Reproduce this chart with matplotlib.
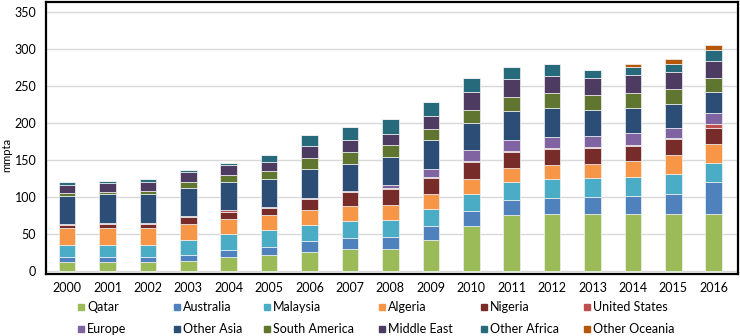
import matplotlib
matplotlib.use("Agg")
import matplotlib.pyplot as plt
from matplotlib.patches import Rectangle
import numpy as np

years = [str(y) for y in range(2000, 2017)]
series_names = ["Qatar", "Australia", "Malaysia", "Algeria", "Nigeria", "United States",
                "Europe", "Other Asia", "South America", "Middle East", "Other Africa", "Other Oceania"]
colors = ["#9BBB59", "#4F81BD", "#4BACC6", "#F79646", "#772C2A", "#C0504D",
          "#8064A2", "#2C4D75", "#5F7530", "#4D3B62", "#276A7C", "#B65708"]

qatar         = [11, 11, 11, 13, 18, 20.5, 25, 29, 29.5, 41.5, 60.5, 75.5, 76.5, 76.5, 76.5, 76.5, 76.5]
australia     = [8, 8, 8, 8, 9.5, 11, 14.5, 15.5, 16, 19, 20, 20.5, 22, 23, 24.5, 27.5, 43.5]
malaysia      = [15, 15, 15, 20, 22, 23.5, 22, 22.5, 23.5, 22.5, 23.5, 24, 26, 26.5, 25.5, 26.5, 26]
algeria       = [23, 24, 24, 22.5, 20.5, 20.5, 21, 20.5, 20, 20.5, 20, 19.5, 18.5, 18.5, 21.5, 25.5, 25.5]
nigeria       = [5, 5, 5.5, 9, 10, 9.5, 15, 19, 21, 22, 22.5, 21, 21.5, 21.5, 21, 22, 22]
united_states = [1.5, 1.5, 1.5, 1.5, 1.5, 1.5, 1.5, 1.3, 1.5, 1.5, 1.5, 1.5, 1.5, 1.5, 1.5, 1.5, 4.5]
europe        = [0, 0, 0, 0, 0, 0, 0, 0, 4, 11, 15.5, 15.5, 15.5, 14.5, 15.5, 14, 16]
other_asia    = [38, 39, 39, 38, 38.5, 38, 38, 37, 38.5, 39, 37, 39, 38.5, 35.5, 34.5, 32, 27.5]
south_america = [3, 3, 4, 8.5, 10, 10.5, 15.5, 15.5, 15.5, 15.5, 17.5, 19, 20, 20, 20, 20, 20]
middle_east   = [12, 12, 12, 13, 13, 12, 16, 16, 16, 16.5, 23.5, 24, 24, 23.5, 24, 23, 23]
other_africa  = [3, 3.5, 4, 3, 3, 9, 15.5, 18, 19.5, 19, 19, 17, 16, 11.5, 12, 11.5, 14]
other_oceania = [0, 0, 0, 0, 0, 0, 0, 0, 0, 0, 0, 0, 0, 0, 3, 7, 7]

series = [qatar, australia, malaysia, algeria, nigeria, united_states,
          europe, other_asia, south_america, middle_east, other_africa, other_oceania]

yticks = [0, 50, 100, 150, 200, 250, 300, 350]

FONT = ["Lato", "DejaVu Sans"]
plt.rcParams["font.family"] = FONT

W, H = 740, 336
fig = plt.figure(figsize=(W / 100, H / 100), dpi=100)
ax = fig.add_axes([46 / W, 1 - 273.5 / H, (738 - 46) / W, (273.5 - 2) / H])

x = np.arange(len(years))
bottom = np.zeros(len(years))
for name, vals, c in zip(series_names, series, colors):
    v = np.array(vals, dtype=float)
    ax.bar(x, v, width=0.41, bottom=bottom, color=c, edgecolor="#F2F2F2",
           linewidth=0.5, label=name, zorder=3)
    bottom += v

ax.set_xlim(-0.52, 16.6)
ax.set_ylim(-4, 364)
ax.set_yticks(yticks)
ax.set_xticks(x)
ax.set_xticklabels(years, fontsize=9)
ax.tick_params(axis="y", labelsize=9, length=0, pad=7)
ax.tick_params(axis="x", length=0, pad=6)
ax.grid(axis="y", color="#D9D9D9", linewidth=1, zorder=0)
for s in ax.spines.values():
    s.set_color("black")
    s.set_linewidth(1.6)

fig.text(7 / W, 1 - 155 / H, "mmpta", rotation=90, ha="center", va="center", fontsize=8)

# legend, manual layout to match reference
col_x = [81, 177, 267, 382, 484, 587]
row_y = [307.3, 329]
for i, (name, c) in enumerate(zip(series_names, colors)):
    r, k = divmod(i, 6)
    mx, my = col_x[k], row_y[r]
    fig.patches.append(Rectangle(((mx - 3) / W, 1 - (my + 3) / H), 6 / W, 6 / H,
                                 transform=fig.transFigure, color=c, figure=fig))
    fig.text((mx + 6) / W, 1 - my / H, name, ha="left", va="center", fontsize=9)

fig.savefig("out.png", dpi=100)
